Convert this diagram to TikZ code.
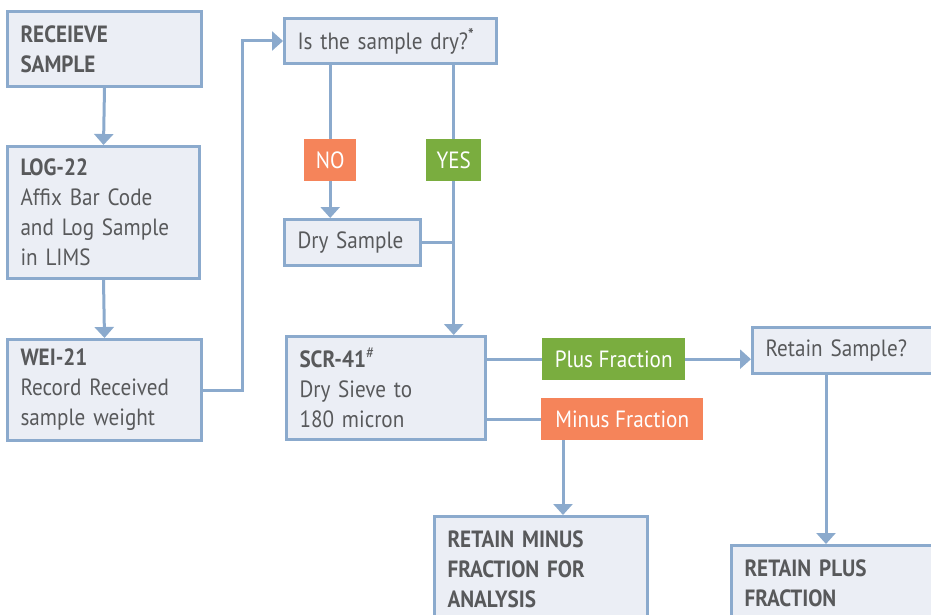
\documentclass[tikz,border=0pt]{standalone}
\usepackage{fontspec}
\setmainfont{PT Sans}[FakeStretch=0.9]
\usepackage{tikz}
\usetikzlibrary{arrows.meta,positioning}
\definecolor{boxfill}{HTML}{EBEEF5}
\definecolor{boxline}{HTML}{8BAACD}
\definecolor{txtgray}{HTML}{58595B}
\definecolor{tagorange}{HTML}{F5845A}
\definecolor{taggreen}{HTML}{7AAD3F}

\begin{document}
\begin{tikzpicture}[
  x=1pt, y=-1pt,
  font=\fontsize{23.5}{30}\selectfont, text=txtgray,
  stepbox/.style = {draw=boxline, line width=3pt, fill=boxfill,
    anchor=north west, align=left, inner xsep=13pt, inner ysep=0pt},
  tag/.style = {anchor=north west, text=white, inner sep=0pt,
    minimum height=42pt},
  link/.style = {draw=boxline, line width=3pt},
  arr/.style = {link, -{Triangle[width=19pt,length=11pt]}},
]
\clip (0,0) rectangle (931,615);
\node[stepbox, text width=168pt, minimum height=75pt] (receive) at (6,10)
  {\textbf{RECEIEVE}\\\textbf{SAMPLE}};
\node[stepbox, text width=166pt, minimum height=132pt] (log) at (6,145)
  {\textbf{LOG-22}\\Affix Bar Code\\and Log Sample\\in LIMS};
\node[stepbox, text width=168pt, minimum height=101pt] (wei) at (6,338)
  {\textbf{WEI-21}\\Record Received\\sample weight};
\node[stepbox, text width=186pt, minimum height=45pt] (ask) at (283,17)
  {Is the sample dry?\textsuperscript{\textbf{*}}};
\node[stepbox, text width=110pt, minimum height=46pt] (dry) at (283,218)
  {Dry Sample};
\node[stepbox, text width=173pt, minimum height=103pt] (sieve) at (285,335)
  {\textbf{SCR-41}\textsuperscript{\#}\\Dry Sieve to\\180 micron};
\node[stepbox, text width=234pt, minimum height=46pt] (retain) at (751,326)
  {Retain Sample?};
\node[stepbox, text width=187pt, minimum height=106pt] (rminus) at (433,515)
  {\textbf{RETAIN MINUS}\\\textbf{FRACTION FOR}\\\textbf{ANALYSIS}};
\node[stepbox, text width=234pt, minimum height=76pt] (rplus) at (730,544)
  {\textbf{RETAIN PLUS}\\\textbf{FRACTION}};
% branch tags
\node[tag, fill=tagorange, minimum width=52pt] (no) at (304,139) {NO};
\node[tag, fill=taggreen, minimum width=55pt] (yes) at (426,139) {YES};
\node[tag, fill=taggreen, minimum width=143pt] (plus) at (542,338) {Plus Fraction};
\node[tag, fill=tagorange, minimum width=162pt] (minus) at (541,398) {Minus Fraction};
% connectors
\draw[arr] (receive.south) -- (log.north);
\draw[arr] (log.south) -- (wei.north);
\draw[arr] (wei.east) -- ++(39,0) |- (ask.west);
\draw[link] (ask.south -| no.north) -- (no.north);
\draw[arr] (no.south) -- (no.south |- dry.north);
\draw[link] (ask.south -| yes.north) -- (yes.north);
\draw[arr] (yes.south) -- (yes.south |- sieve.north);
\draw[link] (dry.east) -- (dry.east -| yes.south);
\draw[link] (sieve.east |- plus.west) -- (plus.west);
\draw[arr] (plus.east) -- (plus.east -| retain.west);
\draw[link] (sieve.east |- minus.west) -- (minus.west);
\draw[arr] ([xshift=22pt]minus.south west) coordinate (mdrop)
  -- (mdrop |- rminus.north);
\draw[arr] ([xshift=75pt]retain.south west) coordinate (rdrop)
  -- (rdrop |- rplus.north);
\end{tikzpicture}
\end{document}
